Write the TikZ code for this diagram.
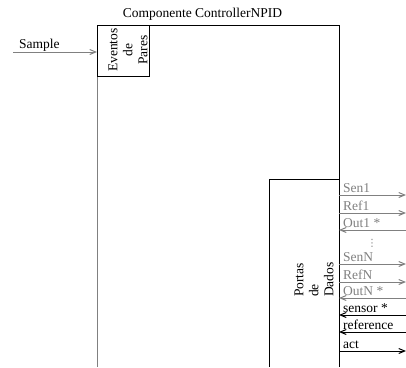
\documentclass[tikz,border=0pt]{standalone}
\usepackage{fontspec}
\setmainfont{Liberation Serif}
\newfontfamily\dejavu{DejaVu Sans}
\usetikzlibrary{arrows.meta}
\begin{document}
\begin{tikzpicture}[x=1pt,y=-1pt,
  every node/.style={font=\fontsize{13.5}{15}\selectfont, inner sep=0pt},
  frame/.style={line width=1pt, black},
  gline/.style={line width=1pt, gray},
  sig/.style={line width=1pt, -{Straight Barb[length=6pt,width=5pt]}},
  glab/.style={anchor=base west, text=gray},
  blab/.style={anchor=base west, text=black}]
\useasboundingbox (0,0) rectangle (406,367);
% outer component
\coordinate (TL) at (97,25);
\coordinate (TR) at (339,25);
\coordinate (BL) at (97,367);
\coordinate (BR) at (339,367);
\node[anchor=base] (title) at (202.5,17) {Componente ControllerNPID};
\draw[frame] (97,76) -- (TL) -- (TR) -- (BR);
\draw[gline] (97,76) -- (BL);
% Eventos box
\draw[frame] (97,25) rectangle (149,76);
\node[rotate=90, align=center] (eventos) at (128,50) {Eventos\\de\\Pares};
% Portas box
\draw[frame] (339,179) -- (269,179) -- (269,367);
\node[rotate=90, align=left, anchor=west] (portas) at (314,297) {Portas\\de\\Dados};
% Sample
\coordinate (s0) at (13,52);
\coordinate (s1) at (97,52);
\draw[sig, gray] (s0) -- (s1);
\node[blab] (sample) at (19,48) {Sample};
% right side ports
\foreach \y/\n/\t/\c/\d in {195/sen1/Sen1/gray/r, 213/ref1/Ref1/gray/r, 230/out1/Out1 */gray/l,
  264/senN/SenN/gray/r, 282/refN/RefN/gray/r, 298/outN/OutN */gray/l,
  315/sensor/sensor */black/l, 332/reference/reference/black/l, 351/act/act/black/r}{
  \coordinate (\n a) at (339,\y);
  \coordinate (\n b) at (406,\y);
  \if r\d
    \draw[sig, \c] (\n a) -- (\n b);
  \else
    \draw[sig, \c] (\n b) -- (\n a);
  \fi
  \node[anchor=base west, text=\c] (\n) at (343,\y-2.5) {\t};
}
\node[text=gray, font=\dejavu\fontsize{10}{12}\selectfont] (dots) at (372,243) {⋮};
\end{tikzpicture}
\end{document}
